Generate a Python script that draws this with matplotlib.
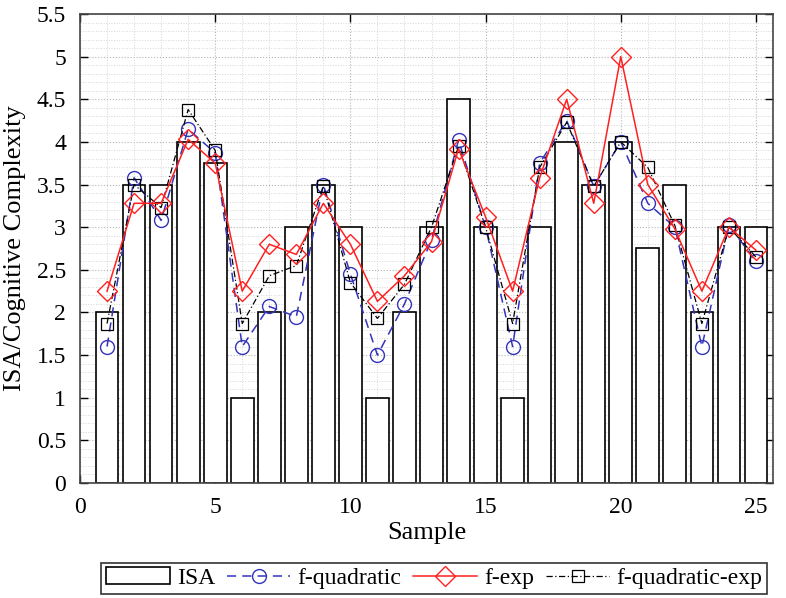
import numpy as np
from matplotlib import pyplot as plt
from matplotlib.ticker import MultipleLocator

plt.rcParams['font.family'] = ['Liberation Serif', 'DejaVu Serif']

samples = np.arange(1, 26)
isa = [2, 3.5, 3.5, 4, 3.75, 1, 2, 3, 3.5, 3, 1, 2, 3, 4.5, 3, 1, 3, 4, 3.5, 4,
       2.75, 3.5, 2, 3, 3]
f_quadratic = [1.6, 3.58, 3.08, 4.15, 3.87, 1.6, 2.07, 1.95, 3.5, 2.45, 1.5, 2.1,
               2.85, 4.02, 3.0, 1.6, 3.75, 4.25, 3.48, 4.0, 3.28, 3.0, 1.6, 3.02, 2.6]
f_exp = [2.25, 3.28, 3.28, 4.03, 3.75, 2.25, 2.8, 2.68, 3.28, 2.8, 2.13, 2.43,
         2.83, 3.92, 3.12, 2.25, 3.58, 4.5, 3.28, 5.0, 3.5, 2.98, 2.25, 3.0, 2.73]
f_quadratic_exp = [1.87, 3.5, 3.23, 4.38, 3.9, 1.87, 2.43, 2.55, 3.48, 2.35, 1.93,
                   2.33, 3.0, 3.95, 3.0, 1.87, 3.7, 4.23, 3.48, 4.0, 3.7, 3.02,
                   1.87, 3.0, 2.65]

fig = plt.figure(figsize=(7.86, 5.98), dpi=100)
ax = fig.add_axes([80/786, 1 - 483/598, 693/786, 469/598])

bars = ax.bar(samples, isa, width=0.84, facecolor='white', edgecolor='black',
              linewidth=1.2, label='ISA', zorder=2)
l1, = ax.plot(samples, f_quadratic, color='#3333bb', linestyle=(0, (6, 4)), lw=1.1,
              marker='o', ms=10, mfc='none', mew=1.0, label='f-quadratic', zorder=3)
l2, = ax.plot(samples, f_exp, color='#ff2020', linestyle='-', lw=1.1,
              marker='D', ms=10, mfc='none', mew=1.0, label='f-exp', zorder=4)
l3, = ax.plot(samples, f_quadratic_exp, color='black', linestyle=(0, (5, 2, 1, 2)), lw=0.9,
              marker='s', ms=9, mfc='none', mew=0.9, label='f-quadratic-exp', zorder=3)

ax.set_xlim(0, 25.63)
ax.set_ylim(0, 5.5)
ax.xaxis.set_major_locator(MultipleLocator(5))
ax.xaxis.set_minor_locator(MultipleLocator(1))
ax.yaxis.set_minor_locator(MultipleLocator(0.1))
ax.set_yticks(np.arange(0, 5.51, 0.5))
ax.set_yticklabels(['0', '0.5', '1', '1.5', '2', '2.5', '3', '3.5', '4', '4.5', '5', '5.5'])
ax.grid(which='major', linestyle=':', color='#b5b5b5', lw=0.8, zorder=0)
ax.grid(which='minor', linestyle=':', color='#d5d5d5', lw=0.7, zorder=0)
ax.set_axisbelow(True)
ax.tick_params(which='major', direction='in', length=6, top=True, right=True,
               labelsize=17, pad=10, width=1)
ax.tick_params(which='minor', length=0)
for s in ax.spines.values():
    s.set_color('#444444')
    s.set_linewidth(1.2)

ax.set_xlabel('Sample', fontsize=19, labelpad=3)
ax.set_ylabel('ISA/Cognitive Complexity', fontsize=19, labelpad=8)

leg = ax.legend([bars, l1, l2, l3], ['ISA', 'f-quadratic', 'f-exp', 'f-quadratic-exp'],
                loc='upper center', bbox_to_anchor=(0.511, -0.17), ncol=4,
                fontsize=17, frameon=True, fancybox=False, edgecolor='black',
                handlelength=2.7, handletextpad=0.3, columnspacing=0.5,
                borderpad=0.2, borderaxespad=0)
leg.get_frame().set_linewidth(1.2)

fig.savefig('out.png', dpi=100)
